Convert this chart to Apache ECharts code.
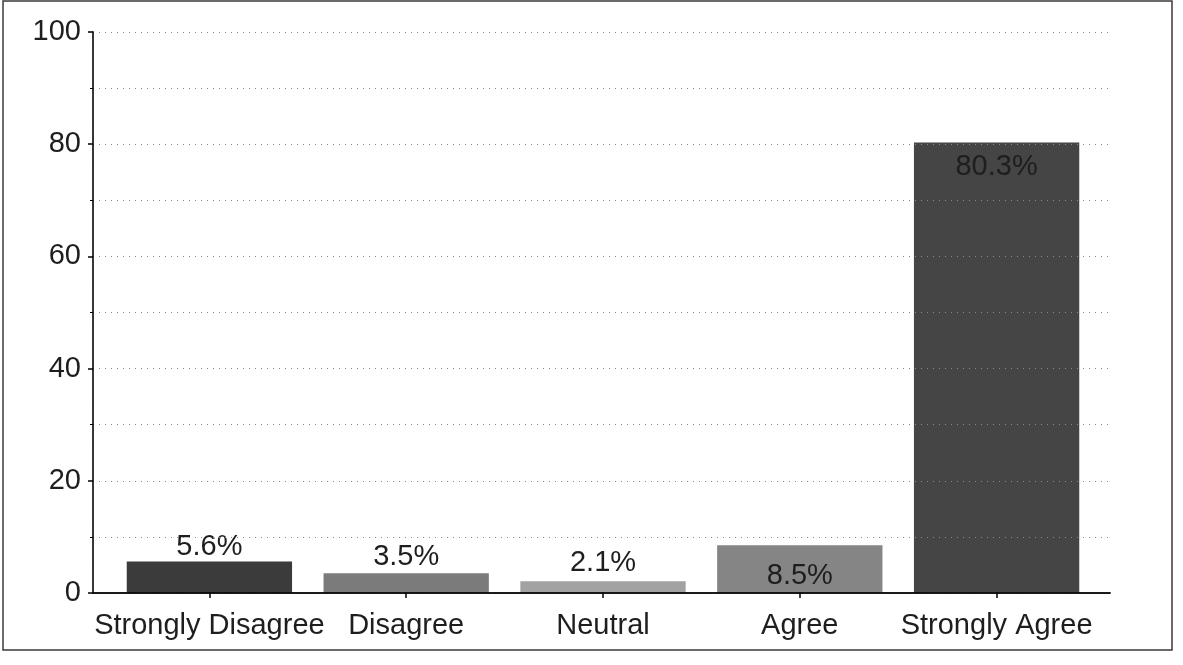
<!DOCTYPE html>
<html>
<head>
<meta charset="utf-8">
<script src="https://cdn.jsdelivr.net/npm/echarts@6/dist/echarts.min.js"></script>
<style>
  html, body { margin: 0; padding: 0; background: #fff; }
  #chart { width: 1183px; height: 665px; }
</style>
</head>
<body>
<div id="chart"></div>
<script>
// Survey responses (percent of respondents)
const categories = ['Strongly Disagree', 'Disagree', 'Neutral', 'Agree', 'Strongly Agree'];
const percents = [5.6, 3.5, 2.1, 8.5, 80.3];
const yTicks = [0, 20, 40, 60, 80, 100];

// Fill shade for each bar, in category order
const barShades = ['#3b3b3b', '#7b7b7b', '#a2a2a2', '#858585', '#454545'];
// Where each value label sits relative to its bar
const labelSpots = ['top', 'top', 'top', 'insideBottom', 'insideTop'];
const labelGaps = [0, 2, 4, 3, 10];

const FONT = '"Liberation Sans", Arial, sans-serif';
const TEXT = '#1e1e1e';
const SIZE = 29;
const yMin = yTicks[0], yMax = yTicks[yTicks.length - 1];

const chart = echarts.init(document.getElementById('chart'));

chart.setOption({
  animation: false,
  backgroundColor: '#fff',
  textStyle: { fontFamily: FONT },
  grid: [
    // frame + gridlines
    { left: 93, right: 73, top: 32, bottom: 72 },
    // bars, inset a little from the frame
    { left: 111, right: 88, top: 32, bottom: 72 }
  ],
  xAxis: [
    {
      gridIndex: 0, type: 'value', min: 0, max: 1, position: 'bottom', z: 5,
      axisLine: { show: true, lineStyle: { color: '#000', width: 1.5 } },
      axisTick: { show: false }, axisLabel: { show: false }, splitLine: { show: false }
    },
    {
      gridIndex: 0, type: 'value', min: 0, max: 1, position: 'top', z: 5,
      axisLine: { show: true, lineStyle: { color: '#111', width: 1.5 } },
      axisTick: { show: false }, axisLabel: { show: false }, splitLine: { show: false }
    },
    {
      gridIndex: 1, type: 'category', data: categories, position: 'bottom', z: 5,
      axisLine: { show: false },
      axisTick: { show: true, alignWithLabel: true, inside: false, length: 5,
                  lineStyle: { color: '#000', width: 1.5 } },
      axisLabel: { color: TEXT, fontSize: SIZE, fontFamily: FONT, margin: 18, interval: 0 },
      splitLine: { show: false }
    }
  ],
  yAxis: [
    {
      gridIndex: 0, type: 'value', min: yMin, max: yMax, interval: 20, z: 5,
      axisLine: { show: true, lineStyle: { color: '#000', width: 1.5 } },
      axisTick: { show: true, length: 5, lineStyle: { color: '#000', width: 1.5 } },
      minorTick: { show: true, splitNumber: 2, length: 3, lineStyle: { color: '#000' } },
      axisLabel: { color: TEXT, fontSize: SIZE, fontFamily: FONT, margin: 12 },
      splitLine: { show: true, lineStyle: { color: '#8a8a8a', width: 1, type: [1, 5] } },
      minorSplitLine: { show: true, lineStyle: { color: '#8a8a8a', width: 1, type: [1, 5] } }
    },
    {
      gridIndex: 0, type: 'value', min: yMin, max: yMax, position: 'right', z: 5,
      axisLine: { show: true, lineStyle: { color: '#333', width: 1.5, type: [3, 2] } },
      axisTick: { show: false }, axisLabel: { show: false }, splitLine: { show: false }
    },
    {
      gridIndex: 1, type: 'value', min: yMin, max: yMax, show: false,
      splitLine: { show: false }
    }
  ],
  series: [
    {
      type: 'bar',
      xAxisIndex: 2,
      yAxisIndex: 2,
      barCategoryGap: '16%',
      data: percents.map((v, i) => ({
        value: v,
        itemStyle: { color: barShades[i] },
        label: { position: labelSpots[i], distance: labelGaps[i] }
      })),
      label: {
        show: true,
        color: TEXT,
        fontSize: SIZE,
        fontFamily: FONT,
        formatter: p => p.value + '%'
      }
    }
  ],
  graphic: [
    {
      type: 'rect',
      shape: { x: 3, y: 1, width: 1169, height: 649 },
      style: { fill: 'none', stroke: '#3a3a3a', lineWidth: 1.5 },
      silent: true
    }
  ]
});
</script>
</body>
</html>
